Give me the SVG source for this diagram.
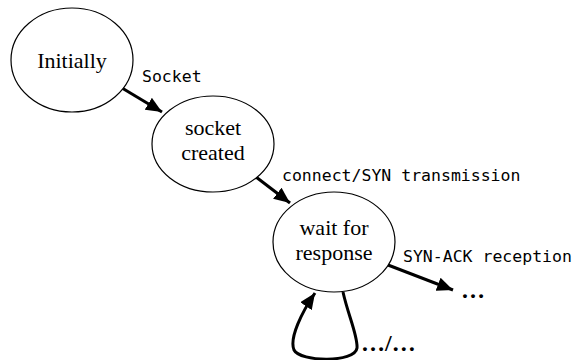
<svg xmlns="http://www.w3.org/2000/svg" width="577" height="360" viewBox="0 0 577 360">
<style>
.node{fill:#fff;stroke:#000;stroke-width:1.2}
.nt{font-family:'Liberation Serif','Times New Roman',Times,'DejaVu Serif',serif;font-size:22px;text-anchor:middle;fill:#000}
.lbl{font-family:'DejaVu Sans Mono',monospace;font-size:16.5px;fill:#000}
.edge{fill:none;stroke:#000;stroke-width:3;marker-end:url(#ah)}
.dots{font-family:'Liberation Serif','DejaVu Serif',serif;font-size:24px;font-weight:bold;fill:#000}
</style>
<defs>
<marker id="ah" markerUnits="userSpaceOnUse" markerWidth="18" markerHeight="14" refX="16" refY="7" orient="auto">
<path d="M0,0 L16,7 L0,14 Z" fill="#000"/>
</marker>
</defs>
<rect width="577" height="360" fill="#fff"/>
<g id="connectors">
<path class="edge" d="M122,88 L162,112"/>
<path class="edge" d="M256,177 L290,203"/>
<path class="edge" d="M388,265 L453,290"/>
<path class="edge" d="M343,292 C348,315 358,336 357,348 C355,363 300,362 294,350 C289,338 302,312 315,293"/>
</g>
<g id="n-initially">
<ellipse class="node" cx="72" cy="60" rx="61" ry="52"/>
<text class="nt" x="72" y="68" font-family="Liberation Serif">Initially</text>
</g>
<g id="n-socket-created">
<ellipse class="node" cx="213" cy="144" rx="61" ry="48"/>
<text class="nt" x="213" y="135">socket</text>
<text class="nt" x="213" y="160">created</text>
</g>
<g id="n-wait">
<ellipse class="node" cx="334" cy="242" rx="61" ry="50"/>
<text class="nt" x="334" y="235">wait for</text>
<text class="nt" x="334" y="260">response</text>
</g>
<g id="labels">
<text class="lbl" x="142" y="82">Socket</text>
<text class="lbl" x="282" y="181">connect/SYN transmission</text>
<text class="lbl" x="403" y="262">SYN-ACK reception</text>
<text class="dots" x="461" y="298">…</text>
<text class="dots" x="361" y="351">…/…</text>
</g>
</svg>
